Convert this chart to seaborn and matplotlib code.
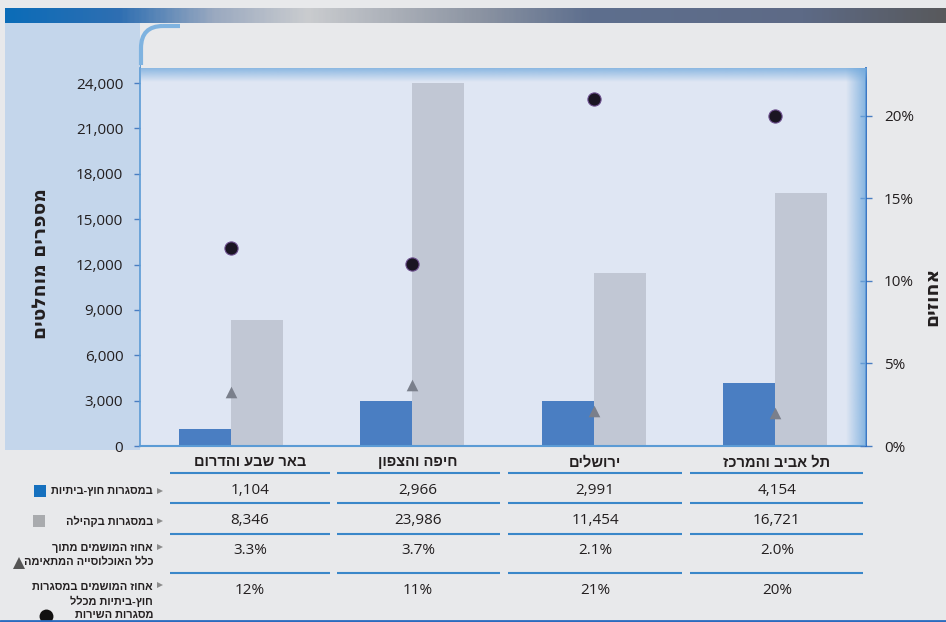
import numpy as np
import pandas as pd
import matplotlib
matplotlib.use('Agg')
import matplotlib.pyplot as plt
import seaborn as sns
from matplotlib.patches import Rectangle, FancyBboxPatch
from matplotlib.colors import LinearSegmentedColormap, to_rgb
from matplotlib.ticker import FuncFormatter

# data
regions = ['באר שבע והדרום', 'חיפה והצפון', 'ירושלים', 'תל אביב והמרכז']
series_names = ['במסגרות חוץ-ביתיות', 'במסגרות בקהילה']
out_of_home = [1104, 2966, 2991, 4154]
community = [8346, 23986, 11454, 16721]
pct_population = [3.3, 3.7, 2.1, 2.0]
pct_out_of_home = [12, 11, 21, 20]
row_labels = [
    'במסגרות חוץ-ביתיות',
    'במסגרות בקהילה',
    'אחוז המושמים מתוך\nכלל האוכלוסייה המתאימה',
    'אחוז המושמים במסגרות\nחוץ-ביתיות מכלל\nמסגרות השירות',
]
left_title = 'מספרים מוחלטים'
right_title = 'אחוזים'
count_ticks = list(range(0, 24001, 3000))
pct_ticks = [0, 5, 10, 15, 20]

BLUE = '#4a7ec2'
GRAY = '#c1c7d4'
TEXT = '#231f20'
LINE = '#3a87c9'
HEB = ['Liberation Sans', 'DejaVu Sans']


def rtl(s):
    # matplotlib lays glyphs out left to right, so flip each Hebrew line
    return '\n'.join(line[::-1] for line in s.split('\n'))


def glow(axis, x0, x1, y0, y1, color, a0, a1, horizontal=True):
    n = 64
    rgba = np.zeros((n, 4))
    rgba[:, :3] = to_rgb(color)
    rgba[:, 3] = np.linspace(a0, a1, n)
    img = rgba[None, :, :] if horizontal else rgba[:, None, :]
    axis.imshow(img, extent=(x0, x1, y1, y0), aspect='auto', interpolation='bilinear')


sns.set_theme(style='white')
plt.rcParams['font.family'] = ['Open Sans', 'DejaVu Sans']

W, H = 946, 622
fig = plt.figure(figsize=(W / 100, H / 100), dpi=100, facecolor='#e8e9eb')

# background decoration
bg = fig.add_axes([0, 0, 1, 1], zorder=0)
bg.axis('off')
banner = LinearSegmentedColormap.from_list('banner', [
    (0.0, '#0b6cb8'), (0.12, '#2f6fb2'), (0.22, '#9aa9c0'), (0.32, '#cacccf'),
    (0.5, '#8d95a3'), (0.62, '#5e6f8e'), (0.85, '#5d6a86'), (1.0, '#58595c')])
bg.imshow(np.linspace(0, 1, 400)[None, :], extent=(5, W, 23, 8), aspect='auto', cmap=banner)
bg.add_patch(Rectangle((5, 23), 135, 427, color='#c4d6eb', lw=0))
bg.add_patch(FancyBboxPatch((141, 26), 900, 424, boxstyle='round,pad=0,rounding_size=22',
                            fc='#e8e9eb', ec='none'))
corner = FancyBboxPatch((141, 26), 900, 424, boxstyle='round,pad=0,rounding_size=22',
                        fc='none', ec='#7fb3e0', lw=3)
bg.add_patch(corner)
corner.set_clip_path(Rectangle((120, 20), 60, 45, transform=bg.transData))
glow(bg, 126, 141, 40, 440, '#4f93d2', 0.0, 0.85)
glow(bg, 141, 868, 59, 69, '#5b9bd5', 0.0, 0.8, horizontal=False)
bg.set_xlim(0, W)
bg.set_ylim(H, 0)

# main chart
ax = fig.add_axes([140 / W, 1 - 446 / H, 726 / W, 378 / H], zorder=1)
ax.set_facecolor('#dfe6f3')
df = pd.DataFrame({
    'region': regions * 2,
    'series': [series_names[0]] * len(regions) + [series_names[1]] * len(regions),
    'count': out_of_home + community,
})
sns.barplot(data=df, x='region', y='count', hue='series', order=regions,
            hue_order=series_names, palette=[BLUE, GRAY], width=0.572,
            saturation=1, linewidth=0, legend=False, ax=ax)
ax.set_ylim(0, 25000)
ax.set_yticks(count_ticks)
ax.yaxis.set_major_formatter(FuncFormatter(lambda v, p: f'{int(v):,}'))
ax.set_xticks([])
ax.set_xlabel('')
ax.set_ylabel('')
ax.tick_params(axis='y', direction='out', length=4, width=1, color=BLUE,
               labelsize=11, labelcolor=TEXT, pad=8)
ax.spines['top'].set_visible(False)
ax.spines['right'].set_visible(False)
ax.spines['left'].set_color('#5b9bd5')
ax.spines['bottom'].set_color('#5b9bd5')
ax.spines['left'].set_linewidth(1.2)
ax.spines['bottom'].set_linewidth(1.5)

ax2 = ax.twinx()
pos = np.arange(len(regions))
sns.scatterplot(x=pos, y=pct_population, marker='^', s=70, color='#7a7f8b',
                linewidth=0, ax=ax2)
sns.scatterplot(x=pos, y=pct_out_of_home, marker='o', s=90, color='#1a1522',
                edgecolor='#6b4d8c', linewidth=0.8, ax=ax2)
ax2.set_ylim(0, 22.9)
ax2.set_yticks(pct_ticks)
ax2.yaxis.set_major_formatter(FuncFormatter(lambda v, p: f'{int(v)}%'))
ax2.tick_params(axis='y', direction='inout', length=8, width=1, color=BLUE,
                labelsize=11, labelcolor=TEXT, pad=9)
for side in ['top', 'left', 'bottom']:
    ax2.spines[side].set_visible(False)
ax2.spines['right'].set_color('#2a6bc0')
ax2.spines['right'].set_linewidth(1.3)
ax.set_xlim(-0.5, len(regions) - 0.5)

# overlay for glow inside the frame, titles and the data table
fx = fig.add_axes([0, 0, 1, 1], zorder=2)
fx.axis('off')
fx.patch.set_alpha(0)
glow(fx, 141, 866, 68, 82, '#6fa8dc', 0.75, 0.0, horizontal=False)
glow(fx, 846, 866, 68, 446, '#6fa8dc', 0.0, 0.8)

fx.text(40, 264, rtl(left_title), rotation=90, ha='center', va='center',
        fontsize=13.5, fontweight='bold', color=TEXT, family=HEB[::-1])
fx.text(932, 296, rtl(right_title), rotation=90, ha='center', va='center',
        fontsize=13.5, fontweight='bold', color=TEXT, family=HEB[::-1])

col_x = [250, 418, 595, 777]
col_span = [(170, 330), (337, 500), (508, 682), (690, 863)]
row_y = [491, 521, 550, 591]
line_y = [472.5, 503, 533.5, 572.5]

table_rows = [
    [f'{v:,}' for v in out_of_home],
    [f'{v:,}' for v in community],
    [f'{v:.1f}%' for v in pct_population],
    [f'{v}%' for v in pct_out_of_home],
]
for j, name in enumerate(regions):
    fx.text(col_x[j], 462, rtl(name), ha='center', va='center', fontsize=10.5,
            fontweight='bold', color=TEXT, family=HEB)
    for i, row in enumerate(table_rows):
        fx.text(col_x[j], row_y[i], row[j], ha='center', va='center',
                fontsize=11, color=TEXT)
    for y in line_y:
        fx.plot(col_span[j], [y, y], color=LINE, lw=1.5, solid_capstyle='butt')

label_y = [491, 521, 555, 601]
arrow_y = [491, 521, 547, 585]
for i, lab in enumerate(row_labels):
    fx.text(153, label_y[i], rtl(lab), ha='right', va='center', fontsize=7.9,
            fontweight='bold', color=TEXT, linespacing=1.45, family=HEB)
    fx.plot(160, arrow_y[i], marker='>', ms=4, color='#8c8c8c', mew=0)

fx.plot(40, 491, marker='s', ms=8, color='#1570be', mew=0)
fx.plot(39, 521, marker='s', ms=8, color='#a9abae', mew=0)
fx.plot(19, 563, marker='^', ms=9, color='#555555', mew=0)
fx.plot(46, 616, marker='o', ms=10, color='#111111', mew=0)
fx.plot([0, W], [621, 621], color='#2a6bbf', lw=2)

fx.set_xlim(0, W)
fx.set_ylim(H, 0)

fig.savefig('out.png', dpi=100, facecolor=fig.get_facecolor())
